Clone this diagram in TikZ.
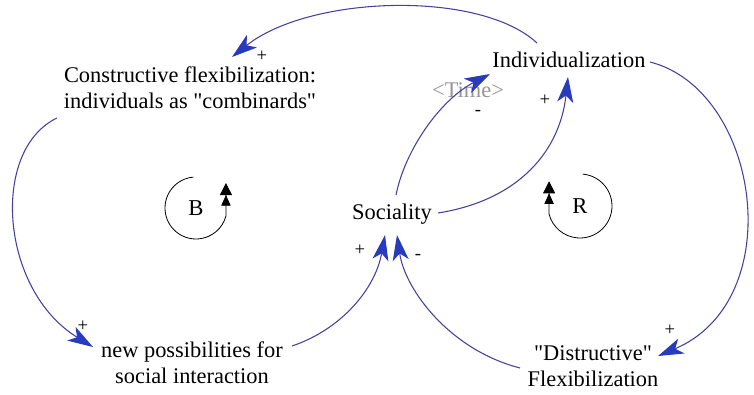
\documentclass[tikz,border=0pt]{standalone}
\usepackage{fontspec}
\setmainfont{Liberation Serif}
\usetikzlibrary{arrows.meta,calc}
\definecolor{linkline}{RGB}{70,64,158}
\definecolor{linktip}{RGB}{40,58,190}
\definecolor{shadowvar}{RGB}{150,150,150}
\begin{document}
\begin{tikzpicture}[x=0.75pt,y=-0.75pt,
  var/.style={inner sep=0pt, align=center, font=\fontsize{16.8}{19.5}\selectfont},
  link/.style={draw=linkline, line width=0.8pt,
    -{Stealth[length=19pt,width=12pt,inset=5pt,color=linktip]}},
  polarity/.style={inner sep=0pt, font=\fontsize{14}{14}\selectfont},
  loopline/.style={draw=black, line width=0.6pt,
    -{Triangle[length=8pt,width=7pt]Triangle[length=9pt,width=9pt]}},
  looptag/.style={inner sep=0pt, font=\fontsize{17}{17}\selectfont}
]
\useasboundingbox (0,0) rectangle (754,395);

% variables
\node[var] (cf) at (190,88) {Constructive flexibilization:\\individuals as \textquotedbl combinards\textquotedbl};
\node[var] (ind) at (569,60) {Individualization};
\node[var] (soc) at (392,214) {Sociality};
\node[var] (np) at (192,363) {new possibilities for\\social interaction};
\node[var] (df) at (593,366) {\textquotedbl Distructive\textquotedbl\\Flexibilization};
\node[var, text=shadowvar] (time) at (468,90) {<Time>};

% causal links
\draw[link] ($(ind)+(-32,-17)$) .. controls (480,-10) and (310,-5) .. ($(cf)+(42,-31)$);
\draw[link] ($(cf)+(-133,30)$) .. controls (-10,150) and (0,290) .. ($(np)+(-99,-16)$);
\draw[link] ($(np)+(100,-17)$) .. controls (340,330) and (375,290) .. ($(soc)+(-7,21)$);
\draw[link] ($(df)+(-73,2)$) .. controls (450,350) and (405,290) .. ($(soc)+(5,21)$);
\draw[link] ($(ind)+(81,2)$) .. controls (760,90) and (790,300) .. ($(df)+(65,-10)$);
\draw[link] ($(soc)+(4,-19)$) .. controls (405,150) and (440,100) .. ($(ind)+(-79,14)$);
\draw[link] ($(soc)+(46,-1)$) .. controls (520,200) and (560,150) .. ($(ind)+(-1,17)$);

% link polarities
\node[polarity] (p1) at (262,56) {+};
\node[polarity] (p2) at (83,326) {+};
\node[polarity] (p3) at (360,250) {+};
\node[polarity] (p4) at (418,257) {-};
\node[polarity] (p5) at (670,330) {+};
\node[polarity] (p6) at (478,113) {-};
\node[polarity] (p7) at (545,100) {+};

% loop markers
\coordinate (bc) at (196,208);
\node[looptag] (btag) at (bc) {B};
\draw[loopline] (bc) ++(-95:31) arc[start angle=-95, end angle=-345, radius=31] -- ++(0,-33);

\coordinate (rc) at (580,206);
\node[looptag] (rtag) at (rc) {R};
\draw[loopline] (rc) ++(-85:32) arc[start angle=-85, end angle=165, radius=32] -- ++(0,-33);
\end{tikzpicture}
\end{document}
